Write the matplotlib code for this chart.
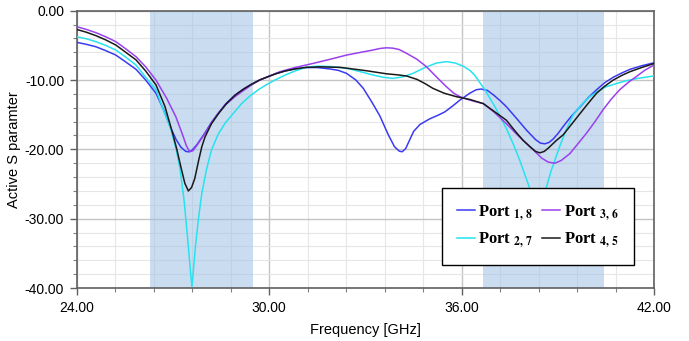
import matplotlib
matplotlib.use("Agg")
import matplotlib.pyplot as plt
from matplotlib.ticker import MultipleLocator, FormatStrFormatter

plt.rcParams['font.family'] = ['Liberation Sans', 'DejaVu Sans']
plt.rcParams['mathtext.fontset'] = 'stix'

# Port 1,8
f_18 = [24.0, 24.3, 24.6, 24.9, 25.22, 25.5, 25.85, 26.15, 26.47, 26.7, 26.94, 27.1,
        27.25, 27.4, 27.5, 27.6, 27.75, 28.0, 28.2, 28.41, 28.65, 28.93, 29.2, 29.45,
        29.7, 29.97, 30.2, 30.49, 30.8, 31.16, 31.5, 31.89, 32.15, 32.41, 32.7, 32.93,
        33.2, 33.45, 33.7, 33.9, 34.05, 34.14, 34.25, 34.38, 34.5, 34.7, 35.0, 35.25,
        35.47, 35.7, 35.94, 36.25, 36.45, 36.6, 36.8, 37.0, 37.2, 37.39, 37.7, 38.01,
        38.3, 38.45, 38.59, 38.72, 38.85, 39.0, 39.16, 39.4, 39.69, 39.95, 40.2, 40.45,
        40.72, 41.0, 41.24, 41.6, 42.0]
s_18 = [-4.56, -4.85, -5.2, -5.75, -6.4, -7.3, -8.46, -10.0, -11.9, -14.2, -17.0, -18.6,
        -19.7, -20.3, -20.35, -20.1, -19.3, -17.6, -16.1, -14.8, -13.4, -12.2, -11.3, -10.6,
        -10.0, -9.5, -9.1, -8.7, -8.4, -8.2, -8.2, -8.4, -8.6, -9.04, -10.0, -11.2,
        -13.2, -15.2, -17.8, -19.6, -20.25, -20.35, -19.9, -18.6, -17.4, -16.4, -15.6, -15.1,
        -14.6, -13.8, -12.9, -11.9, -11.4, -11.3, -11.5, -12.2, -13.0, -13.85, -15.5, -17.2,
        -18.6, -19.1, -19.2, -19.0, -18.5, -17.7, -16.7, -15.3, -13.85, -12.5, -11.4, -10.4,
        -9.6, -8.95, -8.46, -7.95, -7.5]

# Port 2,7
f_27 = [24.0, 24.3, 24.6, 24.9, 25.22, 25.5, 25.85, 26.15, 26.47, 26.7, 26.94, 27.1,
        27.22, 27.35, 27.47, 27.55, 27.59, 27.63, 27.7, 27.8, 27.9, 28.05, 28.2, 28.4,
        28.62, 28.9, 29.14, 29.4, 29.66, 29.9, 30.18, 30.49, 30.8, 31.16, 31.5, 31.9,
        32.41, 32.8, 33.24, 33.55, 33.86, 34.15, 34.48, 34.85, 35.21, 35.52, 35.8, 36.04,
        36.25, 36.4, 36.72, 37.05, 37.39, 37.6, 37.8, 38.1, 38.25, 38.37, 38.5, 38.64,
        38.79, 39.05, 39.25, 39.47, 39.72, 39.99, 40.25, 40.5, 40.82, 41.13, 41.5, 42.0]
s_27 = [-3.75, -4.05, -4.47, -5.0, -5.67, -6.6, -7.84, -9.6, -11.4, -14.3, -17.2, -20.0,
        -22.8, -27.5, -33.5, -37.8, -39.8, -37.8, -34.0, -29.8, -26.3, -22.8, -20.1, -17.9,
        -16.25, -14.7, -13.4, -12.3, -11.4, -10.7, -10.0, -9.3, -8.7, -8.15, -8.0, -8.05,
        -8.3, -8.75, -9.28, -9.6, -9.76, -9.55, -9.04, -8.2, -7.55, -7.35, -7.55, -8.0,
        -8.6, -9.3, -11.4, -14.0, -17.0, -19.2, -21.5, -25.4, -29.0, -33.0, -29.0, -25.4,
        -23.0, -19.6, -17.2, -15.05, -13.6, -12.4, -11.6, -10.96, -10.5, -10.1, -9.75, -9.4]

# Port 3,6
f_36 = [24.0, 24.3, 24.6, 24.9, 25.22, 25.5, 25.85, 26.15, 26.47, 26.8, 27.09, 27.3,
        27.42, 27.52, 27.62, 27.75, 28.0, 28.2, 28.41, 28.65, 28.93, 29.2, 29.45, 29.7,
        29.97, 30.33, 30.8, 31.37, 31.9, 32.41, 32.8, 33.2, 33.45, 33.65, 33.85, 34.05,
        34.28, 34.6, 34.9, 35.2, 35.52, 35.75, 35.94, 36.25, 36.67, 37.0, 37.39, 37.75,
        38.12, 38.5, 38.7, 38.9, 39.1, 39.37, 39.6, 39.88, 40.15, 40.4, 40.65, 40.92,
        41.2, 41.44, 41.7, 42.0]
s_36 = [-2.3, -2.7, -3.17, -3.75, -4.47, -5.4, -6.64, -8.1, -10.0, -12.6, -15.3, -17.9,
        -19.5, -20.35, -20.2, -19.4, -17.7, -16.2, -14.8, -13.5, -12.4, -11.5, -10.7, -10.0,
        -9.5, -8.8, -8.2, -7.6, -7.0, -6.4, -6.05, -5.7, -5.45, -5.35, -5.4, -5.6,
        -6.15, -7.0, -8.08, -9.5, -10.96, -11.9, -12.4, -12.9, -13.4, -14.6, -16.3, -18.0,
        -19.6, -21.3, -21.85, -22.0, -21.6, -20.6, -19.3, -17.7, -16.0, -14.3, -12.8, -11.4,
        -10.3, -9.5, -8.6, -7.8]

# Port 4,5
f_45 = [24.0, 24.3, 24.6, 24.9, 25.22, 25.5, 25.85, 26.15, 26.47, 26.75, 26.99, 27.12,
        27.25, 27.37, 27.48, 27.58, 27.68, 27.8, 27.9, 28.0, 28.2, 28.41, 28.65, 28.93,
        29.2, 29.45, 29.7, 29.97, 30.2, 30.49, 30.8, 31.16, 31.6, 32.2, 32.6, 33.03,
        33.65, 34.0, 34.28, 34.6, 34.85, 35.1, 35.45, 35.83, 36.25, 36.67, 37.0, 37.39,
        37.65, 37.91, 38.12, 38.3, 38.43, 38.57, 38.7, 38.95, 39.16, 39.4, 39.69, 39.95,
        40.2, 40.45, 40.72, 41.0, 41.24, 41.6, 42.0]
s_45 = [-2.7, -3.1, -3.6, -4.2, -4.95, -5.9, -7.1, -8.7, -10.7, -13.8, -17.7, -20.0,
        -22.6, -24.9, -26.0, -25.5, -24.2, -21.6, -19.6, -18.2, -16.3, -14.9, -13.5, -12.2,
        -11.3, -10.6, -10.0, -9.5, -9.1, -8.7, -8.4, -8.17, -8.1, -8.17, -8.4, -8.66,
        -9.1, -9.25, -9.42, -9.9, -10.5, -11.2, -11.9, -12.4, -12.8, -13.4, -14.5, -15.8,
        -17.3, -18.7, -19.6, -20.3, -20.5, -20.3, -19.8, -18.7, -17.9, -16.5, -14.8, -13.3,
        -11.9, -10.9, -10.0, -9.3, -8.8, -8.2, -7.6]

bands = [(26.3, 29.5), (36.66, 40.43)]

fig = plt.figure(figsize=(6.89, 3.41), dpi=100)
ax = fig.add_axes([0.1113, 0.1554, 0.8384, 0.8132])

for lo, hi in bands:
    ax.axvspan(lo, hi, color='#9fc0e3', alpha=0.55, lw=0, zorder=1)

ax.plot(f_18, s_18, color='#3a3af5', lw=1.1, label=r'Port $_{\mathbf{1,\,8}}$', zorder=3)
ax.plot(f_27, s_27, color='#25e3f0', lw=1.1, label=r'Port $_{\mathbf{2,\,7}}$', zorder=3)
ax.plot(f_36, s_36, color='#9a40ee', lw=1.1, label=r'Port $_{\mathbf{3,\,6}}$', zorder=3)
ax.plot(f_45, s_45, color='#1a1a1a', lw=1.1, label=r'Port $_{\mathbf{4,\,5}}$', zorder=3)

ax.set_xlim(24, 42)
ax.set_ylim(-40, 0)
ax.xaxis.set_major_locator(MultipleLocator(6))
ax.xaxis.set_minor_locator(MultipleLocator(1.2))
ax.yaxis.set_major_locator(MultipleLocator(10))
ax.yaxis.set_minor_locator(MultipleLocator(2))
ax.xaxis.set_major_formatter(FormatStrFormatter('%.2f'))
ax.yaxis.set_major_formatter(FormatStrFormatter('%.2f'))

ax.grid(which='major', color='#c4c4c4', lw=1.0, zorder=0)
ax.grid(which='minor', color='#e6e6e6', lw=0.8, zorder=0)
ax.set_axisbelow(True)

ax.tick_params(which='major', length=5, width=1, color='#606060', labelsize=10, pad=4)
ax.tick_params(which='minor', length=3, width=0.8, color='#808080')
for sp in ax.spines.values():
    sp.set_color('#606060')
    sp.set_linewidth(1.2)

ax.set_xlabel('Frequency [GHz]', fontsize=10.5, labelpad=6)
ax.set_ylabel('Active S paramter', fontsize=10.5, labelpad=3)

leg = ax.legend(ncol=2, loc='upper left', bbox_to_anchor=(0.632, 0.36),
                fancybox=False, framealpha=1, edgecolor='black',
                prop={'family': 'Liberation Serif', 'weight': 'bold', 'size': 12},
                handlelength=1.1, handletextpad=0.2, columnspacing=0.5,
                labelspacing=0.45, borderpad=0.9, borderaxespad=0)
leg.get_frame().set_linewidth(1.0)
leg.set_zorder(5)

fig.savefig('out.png', dpi=100)
